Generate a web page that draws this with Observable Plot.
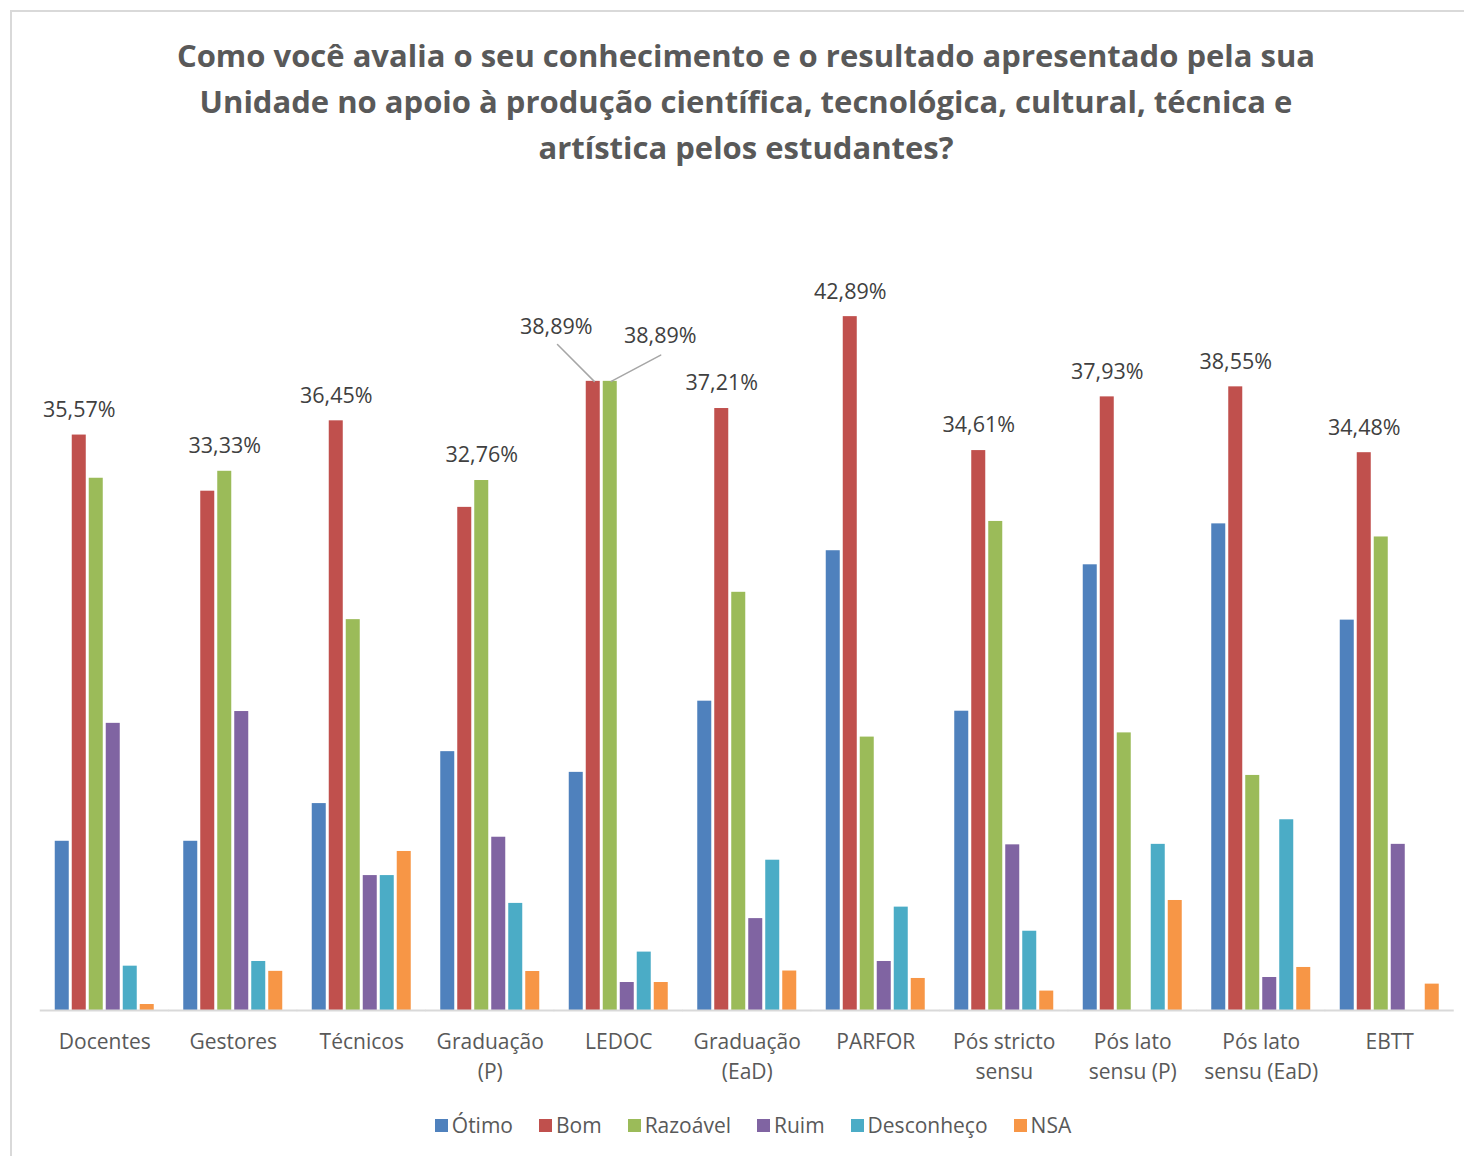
<!DOCTYPE html>
<html>
<head>
<meta charset="utf-8">
<script src="https://cdn.jsdelivr.net/npm/d3@7"></script>
<script src="https://cdn.jsdelivr.net/npm/@observablehq/plot@0.6"></script>
<style>
  html, body { margin: 0; padding: 0; background: #fff; }
  body { width: 1464px; height: 1156px; overflow: hidden; position: relative; font-family: "Open Sans", sans-serif; }
  #frame { position: absolute; left: 10px; top: 10px; width: 1600px; height: 1300px; border-top: 2px solid #d9d9d9; border-left: 2px solid #d9d9d9; box-sizing: border-box; }
  #title { position: absolute; left: 10px; width: 1472px; top: 32px; text-align: center; font-weight: 700; font-size: 31px; line-height: 46px; color: #595959; }
  #chart { position: absolute; left: 0; top: 200px; }
  #legend { position: absolute; left: 0; width: 1506px; top: 1110px; height: 30px; display: flex; justify-content: center; align-items: center; font-size: 21px; color: #595959; }
  .item { display: flex; align-items: center; margin: 0 13px; }
  .sw { width: 13px; height: 13px; margin-right: 4px; }
</style>
</head>
<body>
<div id="frame"></div>
<div id="title">Como você avalia o seu conhecimento e o resultado apresentado pela sua<br>Unidade no apoio à produção científica, tecnológica, cultural, técnica e<br>artística pelos estudantes?</div>
<div id="chart"></div>
<div id="legend"></div>
<script>
const categories = ["Docentes", "Gestores", "Técnicos", "Graduação\n(P)", "LEDOC", "Graduação\n(EaD)", "PARFOR", "Pós stricto\nsensu", "Pós lato\nsensu (P)", "Pós lato\nsensu (EaD)", "EBTT"];
const seriesNames = ["Ótimo", "Bom", "Razoável", "Ruim", "Desconheço", "NSA"];
const seriesColors = ["#4F81BD", "#C0504D", "#9BBB59", "#8064A2", "#4BACC6", "#F79646"];

const otimo      = [10.46, 10.46, 12.79, 16.00, 14.72, 19.12, 28.42, 18.50, 27.55, 30.08, 24.13];
const bom        = [35.57, 32.10, 36.45, 31.10, 38.89, 37.21, 42.89, 34.61, 37.93, 38.55, 34.48];
const razoavel   = [32.90, 33.33, 24.16, 32.76, 38.89, 25.85, 16.90, 30.23, 17.16, 14.53, 29.27];
const ruim       = [17.75, 18.48,  8.34, 10.71,  1.73,  5.68,  3.03, 10.24,  0.00,  2.04, 10.27];
const desconheco = [ 2.74,  3.03,  8.34,  6.62,  3.61,  9.29,  6.39,  4.90, 10.27, 11.79,  0.00];
const nsa        = [ 0.37,  2.42,  9.83,  2.41,  1.73,  2.44,  1.98,  1.20,  6.80,  2.66,  1.63];

const seriesValues = [otimo, bom, razoavel, ruim, desconheco, nsa];
const data = [];
categories.forEach((c, i) => {
  seriesNames.forEach((s, j) => data.push({cat: c, serie: s, value: seriesValues[j][i]}));
});
const maxRows = data.filter(d => d.value === d3.max(data.filter(e => e.cat === d.cat), e => e.value));
const fmt = v => v.toFixed(2).replace(".", ",") + "%";
const isLedoc = d => d.cat === "LEDOC";

const lineShape = { draw(context, l) { context.moveTo(0, 0); context.lineTo(0, -l); } };

const chart = Plot.plot({
  width: 1464,
  height: 900,
  marginLeft: 40,
  marginRight: 10.5,
  marginTop: 82,
  marginBottom: 90,
  style: { fontFamily: "Open Sans, sans-serif", background: "transparent" },
  fx: { domain: categories, paddingInner: 0.2296, paddingOuter: 0.1148, round: false, label: null },
  x: { domain: seriesNames, paddingInner: 0.176, paddingOuter: 0, round: false, axis: null },
  y: { domain: [0, 45], axis: null },
  color: { domain: seriesNames, range: seriesColors },
  marks: [
    Plot.barY(data, { fx: "cat", x: "serie", y: "value", fill: "serie" }),
    Plot.ruleY([0], { stroke: "#d9d9d9", strokeWidth: 2, insetLeft: -15, insetRight: -15 }),
    Plot.text(maxRows.filter(d => !isLedoc(d)), { fx: "cat", x: "serie", y: "value", text: d => fmt(d.value), dy: -25, fontSize: 21.5, fill: "#404040" }),
    Plot.text(maxRows.filter(d => isLedoc(d) && d.serie === "Bom"), { fx: "cat", x: "serie", y: "value", text: d => fmt(d.value), dx: -37, dy: -54, fontSize: 21.5, fill: "#404040" }),
    Plot.text(maxRows.filter(d => isLedoc(d) && d.serie === "Razoável"), { fx: "cat", x: "serie", y: "value", text: d => fmt(d.value), dx: 50, dy: -45, fontSize: 21.5, fill: "#404040" }),
    Plot.vector(maxRows.filter(d => isLedoc(d) && d.serie === "Bom"), { fx: "cat", x: "serie", y: "value", length: 52, rotate: -45, anchor: "start", shape: lineShape, stroke: "#a6a6a6", strokeWidth: 1.5, dx: 1 }),
    Plot.vector(maxRows.filter(d => isLedoc(d) && d.serie === "Razoável"), { fx: "cat", x: "serie", y: "value", length: 56, rotate: 62, anchor: "start", shape: lineShape, stroke: "#a6a6a6", strokeWidth: 1.5, dx: 1 }),
    Plot.axisFx({ anchor: "bottom", tickSize: 0, tickPadding: 17, fontSize: 21, lineHeight: 1.43, fill: "#595959", label: null })
  ]
});
document.getElementById("chart").appendChild(chart);

const legend = document.getElementById("legend");
seriesNames.forEach((s, i) => {
  const item = document.createElement("div");
  item.className = "item";
  const sw = document.createElement("div");
  sw.className = "sw";
  sw.style.background = seriesColors[i];
  const t = document.createElement("span");
  t.textContent = s;
  item.appendChild(sw);
  item.appendChild(t);
  legend.appendChild(item);
});
</script>
</body>
</html>
